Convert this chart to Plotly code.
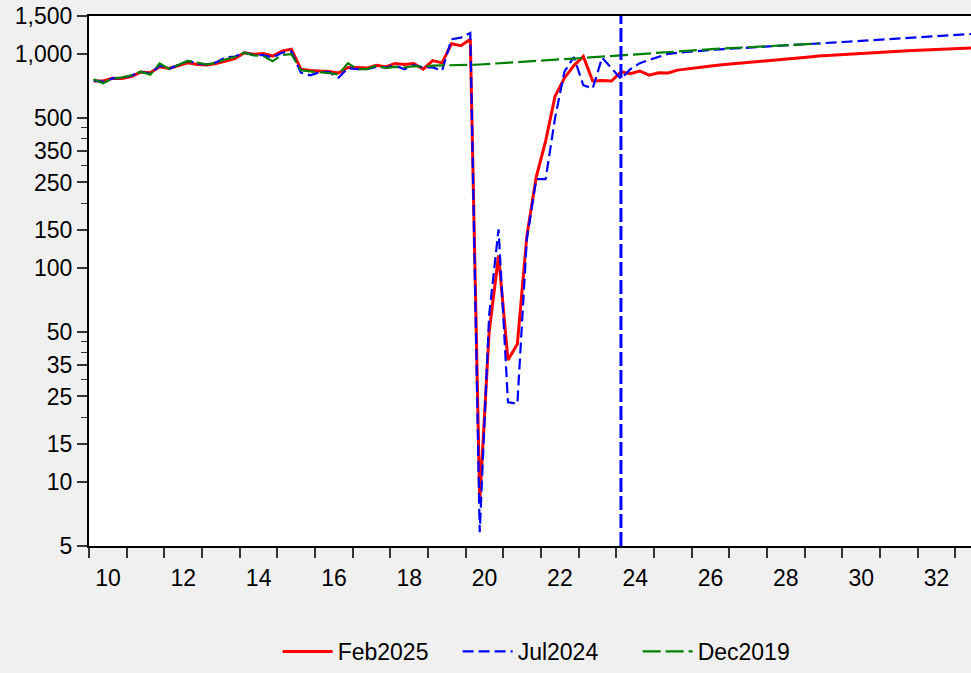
import pandas as pd
import plotly.graph_objects as go

# quarterly index, 2010Q1 .. 2033Q3
quarters = pd.period_range("2010Q1", "2033Q3", freq="Q")
forecast_start = "2024Q1"

feb2025 = [
    745, 745, 768, 765,      # 2010
    782, 820, 815, 869,      # 2011
    852, 880, 906, 890,      # 2012
    885, 900, 922, 948,      # 2013
    1010, 994, 1003, 975,    # 2014
    1028, 1050, 846, 834,    # 2015
    829, 826, 812, 862,      # 2016
    862, 856, 883, 868,      # 2017
    900, 890, 900, 846,      # 2018
    928, 906, 1113, 1090,    # 2019
    1168, 8, 50, 114,        # 2020
    37, 44, 140, 265,        # 2021
    390, 633, 770, 880,      # 2022
    970, 745, 750, 745,      # 2023
    822, 806, 830, 793,      # 2024
    815, 812, 838, 850,      # 2025
    862, 871, 880, 889,      # 2026
    898, 907, 916, 925,      # 2027
    934, 942, 950, 958,      # 2028
    966, 974, 981, 988,      # 2029
    995, 1001, 1007, 1013,   # 2030
    1019, 1025, 1030, 1035,  # 2031
    1040, 1045, 1050, 1055,  # 2032
    1059, 1064, 1068,        # 2033
]

jul2024 = [
    750, 738, 767, 770,
    790, 822, 805, 880,
    850, 885, 925, 900,
    890, 910, 960, 970,
    1012, 985, 985, 960,
    1010, 1025, 815, 792,
    820, 820, 772, 856,
    846, 846, 868, 862,
    880, 846, 883, 862,
    862, 834, 1168, 1189,
    1250, 5.8, 60, 151,
    23.5, 23.1, 136, 259,
    259, 500, 825, 965,
    712, 688, 958, 855,
    762, 846, 903, 935,
    966, 998, 1010, 1020,
    1028, 1036, 1044, 1051,
    1058, 1065, 1072, 1080,
    1086, 1092, 1098, 1104,
    1110, 1116, 1123, 1130,
    1137, 1144, 1151, 1158,
    1165, 1172, 1180, 1187,
    1195, 1202, 1210, 1218,
    1226, 1234, 1242,
]

dec2019 = [
    759, 727, 765, 775,
    793, 823, 797, 900,
    849, 885, 925, 909,
    890, 906, 942, 965,
    1010, 982, 975, 922,
    987, 994, 837, 826,
    820, 812, 800, 903,
    846, 846, 880, 856,
    868, 862, 874, 868,
    880, 880, 883, 883,
    886, 890, 895, 900,
    906, 912, 918, 924,
    930, 937, 943, 949,
    955, 961, 967, 973,
    980, 987, 993, 1000,
    1008, 1016, 1024, 1031,
    1038, 1045, 1052, 1058,
    1064, 1070, 1076, 1082,
    1088, 1094, 1099, 1104,
    1110, 1116,
]

y_ticks = [5, 10, 15, 25, 35, 50, 100, 150, 250, 350, 500, 1000, 1500]
y_minor = [20, 30, 40, 45, 200, 300, 400, 450]
x_years = list(range(2010, 2034))


def qpos(p):
    # EViews puts each quarter in the middle of its slot
    return p.year + (p.quarter - 0.5) / 4


x = [qpos(p) for p in quarters]
font = dict(family="Arial, Liberation Sans, sans-serif", size=23, color="black")

fig = go.Figure()
fig.add_trace(go.Scatter(x=x[:len(feb2025)], y=feb2025, name="Feb2025", mode="lines",
                         line=dict(color="#FF0000", width=3)))
fig.add_trace(go.Scatter(x=x[:len(jul2024)], y=jul2024, name="Jul2024", mode="lines",
                         line=dict(color="#0000FF", width=2.2, dash="11px,5px")))
fig.add_trace(go.Scatter(x=x[:len(dec2019)], y=dec2019, name="Dec2019", mode="lines",
                         line=dict(color="#008000", width=2.2, dash="18px,5px")))

xv = qpos(pd.Period(forecast_start, freq="Q"))
fig.add_shape(type="line", xref="x", yref="paper", x0=xv, x1=xv, y0=0, y1=1,
              line=dict(color="#0000FF", width=3, dash="14px,4px"))

fig.update_xaxes(
    range=[2010, 2033.42],
    tickvals=x_years,
    ticktext=[str(yr)[2:] if yr % 2 == 0 else "" for yr in x_years],
    ticks="outside", ticklen=10, tickwidth=1.5, tickcolor="#333",
    ticklabelshift=19,
    showline=True, linecolor="black", linewidth=2, mirror=True,
    showgrid=False, zeroline=False, tickfont=font,
)
fig.update_yaxes(
    type="log",
    range=[0.69897, 3.17609],
    tickvals=y_ticks,
    ticktext=[f"{v:,}" for v in y_ticks],
    ticks="outside", ticklen=10, tickwidth=1.5, tickcolor="#333",
    minor=dict(tickvals=y_minor, ticks="outside", ticklen=6, tickwidth=1.2, tickcolor="#333"),
    showline=True, linecolor="black", linewidth=2,
    showgrid=False, zeroline=False, tickfont=font,
)
fig.update_layout(
    width=971, height=673,
    margin=dict(l=89, r=0, t=16, b=125),
    paper_bgcolor="#F0F0F0", plot_bgcolor="white",
    font=font,
    showlegend=True,
    legend=dict(orientation="h", x=0.52, xanchor="center", y=-0.2, yanchor="middle",
                itemwidth=50, entrywidth=115, bgcolor="rgba(0,0,0,0)", font=font),
)

# drop the browser's default page margin so the figure sits at the top-left corner
fig.write_html("out.html", config={"displayModeBar": False},
               post_script="document.body.style.margin='0px';document.body.style.overflow='hidden';")
